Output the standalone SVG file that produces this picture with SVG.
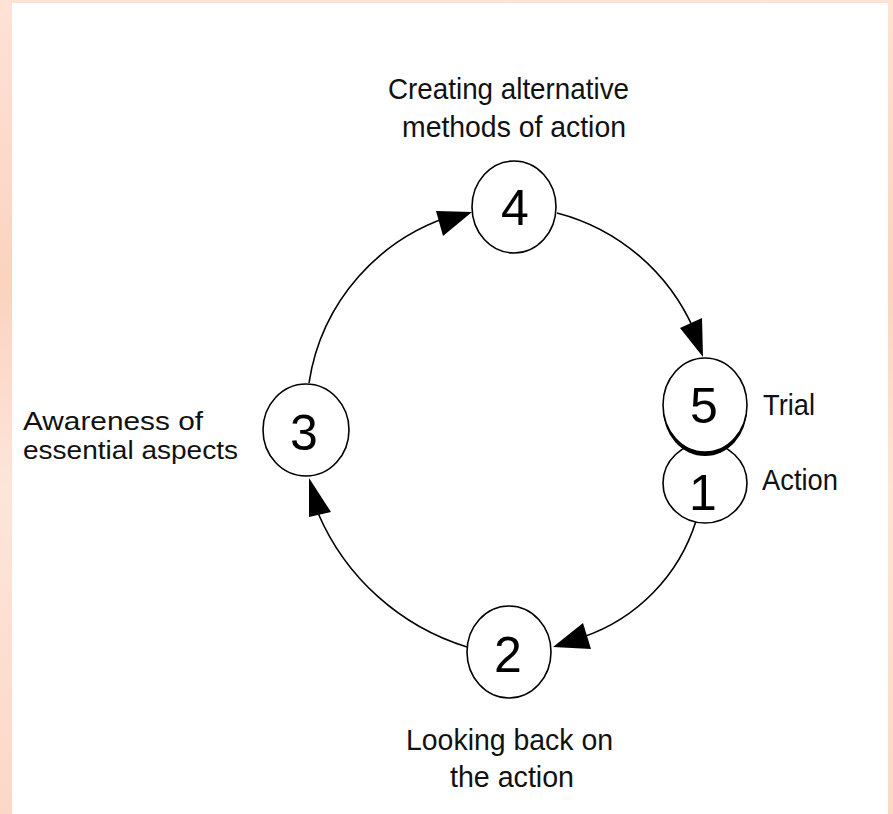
<svg xmlns="http://www.w3.org/2000/svg" width="893" height="814" viewBox="0 0 893 814">
  <defs>
    <linearGradient id="band" x1="0" y1="0" x2="0" y2="1">
      <stop offset="0" stop-color="#fde2d6"/>
      <stop offset="0.35" stop-color="#fbd3bf"/>
      <stop offset="0.6" stop-color="#fde5da"/>
      <stop offset="1" stop-color="#fbd8c6"/>
    </linearGradient>
  </defs>
  <style>
    .node { fill: #ffffff; stroke: #000000; stroke-width: 1.6; }
    .digit { font-family: "Liberation Sans", Arial, sans-serif; font-size: 50px; fill: #000000; text-anchor: middle; }
    .label { font-family: "Liberation Sans", Arial, sans-serif; font-size: 29px; fill: #111111; }
    .label-tight { font-size: 25px; }
    .edge { fill: none; stroke: #000000; stroke-width: 1.6; }
    .head { fill: #000000; stroke: none; }
  </style>

  <!-- background frame -->
  <rect x="0" y="0" width="893" height="814" fill="url(#band)"/>
  <rect x="12" y="3" width="876" height="811" fill="#ffffff"/>

  <!-- connectors -->
  <g id="connectors">
    <path class="edge" d="M309,383 A208,208 0 0 1 458,214"/>
    <polygon class="head" points="436,211 472,212 443,236"/>

    <path class="edge" d="M557,213 A206,206 0 0 1 694,330"/>
    <polygon class="head" points="680,328 702,318 703,357"/>

    <path class="edge" d="M696,521 A179,179 0 0 1 583,637"/>
    <polygon class="head" points="583,623 591,649 553,647"/>

    <path class="edge" d="M467,647 A238,238 0 0 1 318,513"/>
    <polygon class="head" points="309,478 331,512 309,517"/>
  </g>

  <!-- node 4 -->
  <g id="node4">
    <ellipse class="node" cx="514" cy="207" rx="42" ry="46"/>
    <text class="digit" x="515" y="225">4</text>
    <text class="label" x="388" y="99" textLength="241" lengthAdjust="spacingAndGlyphs">Creating alternative</text>
    <text class="label" x="402" y="137" textLength="224" lengthAdjust="spacingAndGlyphs">methods of action</text>
  </g>

  <!-- node 3 -->
  <g id="node3">
    <ellipse class="node" cx="306" cy="430" rx="43" ry="46"/>
    <text class="digit" x="304" y="450">3</text>
    <text class="label label-tight" x="23" y="430" textLength="180" lengthAdjust="spacingAndGlyphs">Awareness of</text>
    <text class="label label-tight" x="23" y="459" textLength="215" lengthAdjust="spacingAndGlyphs">essential aspects</text>
  </g>

  <!-- node 2 -->
  <g id="node2">
    <ellipse class="node" cx="509" cy="652" rx="42" ry="46"/>
    <text class="digit" x="508" y="672">2</text>
    <text class="label" x="406" y="750" textLength="207" lengthAdjust="spacingAndGlyphs">Looking back on</text>
    <text class="label" x="450" y="787" textLength="124" lengthAdjust="spacingAndGlyphs">the action</text>
  </g>

  <!-- node 1 -->
  <g id="node1">
    <ellipse class="node" cx="705" cy="483" rx="42" ry="40"/>
    <text class="digit" x="703" y="510">1</text>
    <text class="label" x="762" y="490" textLength="76" lengthAdjust="spacingAndGlyphs">Action</text>
  </g>

  <!-- node 5 -->
  <g id="node5">
    <ellipse cx="705" cy="409" rx="42" ry="47" fill="#000000"/>
    <ellipse class="node" cx="705" cy="405" rx="42" ry="47"/>
    <text class="digit" x="704" y="423">5</text>
    <text class="label" x="763" y="415" textLength="52" lengthAdjust="spacingAndGlyphs">Trial</text>
  </g>
</svg>
